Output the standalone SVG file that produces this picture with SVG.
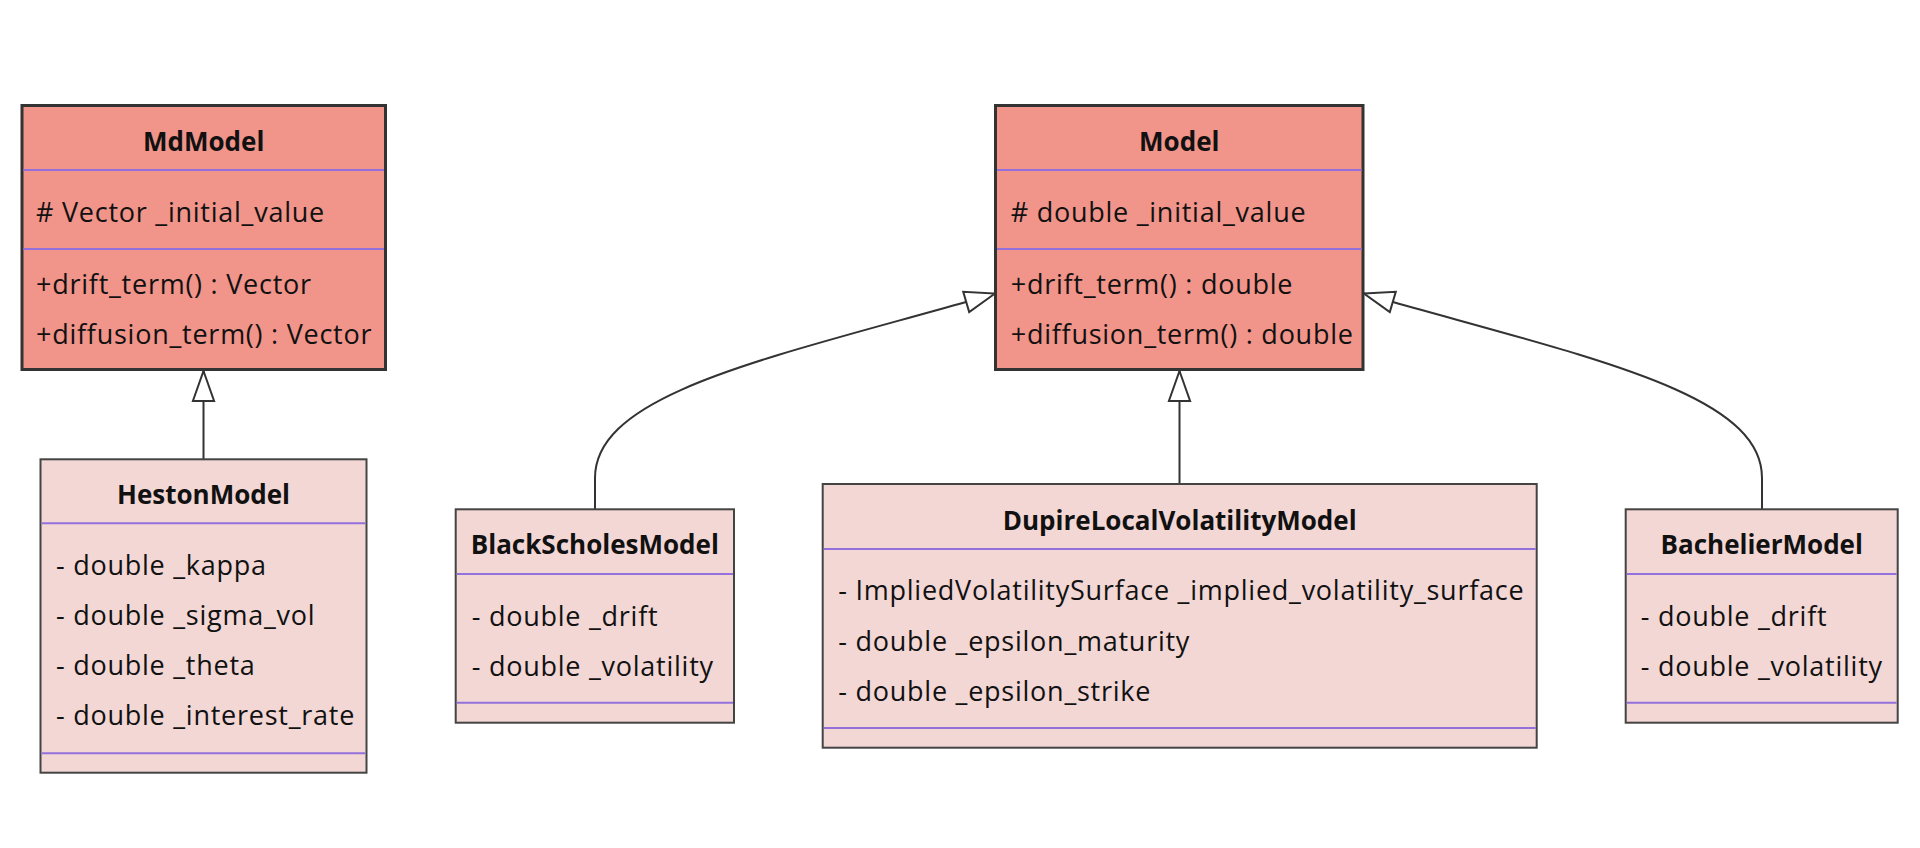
<svg xmlns="http://www.w3.org/2000/svg" width="1920" height="848" viewBox="0 0 1920 848">
<defs>
<style>
.t{font-family:"Open Sans","Liberation Sans",sans-serif;font-size:27px;letter-spacing:0.75px;fill:#111;}
.b{font-size:26px;letter-spacing:0;font-weight:bold;text-anchor:middle;}
.main{fill:#F1948A;stroke:#333;stroke-width:3;}
.sub{fill:#F2D7D5;stroke:#444;stroke-width:2;}
.div{stroke:#9370DB;stroke-width:2;}
.edge{fill:none;stroke:#333;stroke-width:2;marker-start:url(#ext);}
</style>
<marker id="ext" markerUnits="userSpaceOnUse" markerWidth="40" markerHeight="30" refX="1" refY="13" orient="auto" viewBox="0 0 40 30" overflow="visible">
<path d="M1,13 L31,2.4 L31,23.6 Z" fill="#fff" stroke="#333" stroke-width="2"/>
</marker>
</defs>
<rect width="1920" height="848" fill="#fff"/>
<g id="connectors">
<path class="edge" d="M995,293.5 L966,302 C760,360 595,395 595,478 L595,509"/>
<path class="edge" d="M1364,293.5 L1393,302 C1599,360 1762,395 1762,478 L1762,509"/>
<path class="edge" d="M203.5,371 L203.5,459"/>
<path class="edge" d="M1179.5,371 L1179.5,484"/>
</g>
<g id="MdModel">
<rect class="main" x="22" y="105.5" width="363.5" height="264"/>
<line class="div" x1="23.5" y1="170" x2="384" y2="170"/>
<line class="div" x1="23.5" y1="249" x2="384" y2="249"/>
<text class="t b" x="203.7" y="151">MdModel</text>
<text class="t" x="36" y="222"># Vector _initial_value</text>
<text class="t" x="36" y="294">+drift_term() : Vector</text>
<text class="t" x="36" y="344">+diffusion_term() : Vector</text>
</g>
<g id="Model">
<rect class="main" x="995.5" y="105.5" width="367.5" height="264"/>
<line class="div" x1="997" y1="170" x2="1361.5" y2="170"/>
<line class="div" x1="997" y1="249" x2="1361.5" y2="249"/>
<text class="t b" x="1179.3" y="151">Model</text>
<text class="t" x="1010.7" y="222"># double _initial_value</text>
<text class="t" x="1010.7" y="294">+drift_term() : double</text>
<text class="t" x="1010.7" y="344">+diffusion_term() : double</text>
</g>
<g id="HestonModel">
<rect class="sub" x="40.5" y="459.3" width="326" height="313.4"/>
<line class="div" x1="41.5" y1="523.3" x2="365.5" y2="523.3"/>
<line class="div" x1="41.5" y1="753.3" x2="365.5" y2="753.3"/>
<text class="t b" x="203.5" y="504">HestonModel</text>
<text class="t" x="56" y="575">- double _kappa</text>
<text class="t" x="56" y="625">- double _sigma_vol</text>
<text class="t" x="56" y="675">- double _theta</text>
<text class="t" x="56" y="725">- double _interest_rate</text>
</g>
<g id="BlackScholesModel">
<rect class="sub" x="455.7" y="509.3" width="278.3" height="213.4"/>
<line class="div" x1="456.7" y1="574" x2="733" y2="574"/>
<line class="div" x1="456.7" y1="702.7" x2="733" y2="702.7"/>
<text class="t b" x="594.8" y="554">BlackScholesModel</text>
<text class="t" x="471.7" y="626">- double _drift</text>
<text class="t" x="471.7" y="676">- double _volatility</text>
</g>
<g id="DupireLocalVolatilityModel">
<rect class="sub" x="822.7" y="484" width="714" height="263.7"/>
<line class="div" x1="823.7" y1="549" x2="1535.7" y2="549"/>
<line class="div" x1="823.7" y1="728" x2="1535.7" y2="728"/>
<text class="t b" x="1179.7" y="530">DupireLocalVolatilityModel</text>
<text class="t" x="838.3" y="600">- ImpliedVolatilitySurface _implied_volatility_surface</text>
<text class="t" x="838.3" y="650.7">- double _epsilon_maturity</text>
<text class="t" x="838.3" y="700.7">- double _epsilon_strike</text>
</g>
<g id="BachelierModel">
<rect class="sub" x="1625.7" y="509.3" width="272" height="213.4"/>
<line class="div" x1="1626.7" y1="574" x2="1896.7" y2="574"/>
<line class="div" x1="1626.7" y1="702.7" x2="1896.7" y2="702.7"/>
<text class="t b" x="1761.7" y="554">BachelierModel</text>
<text class="t" x="1640.7" y="626">- double _drift</text>
<text class="t" x="1640.7" y="676">- double _volatility</text>
</g>
</svg>
